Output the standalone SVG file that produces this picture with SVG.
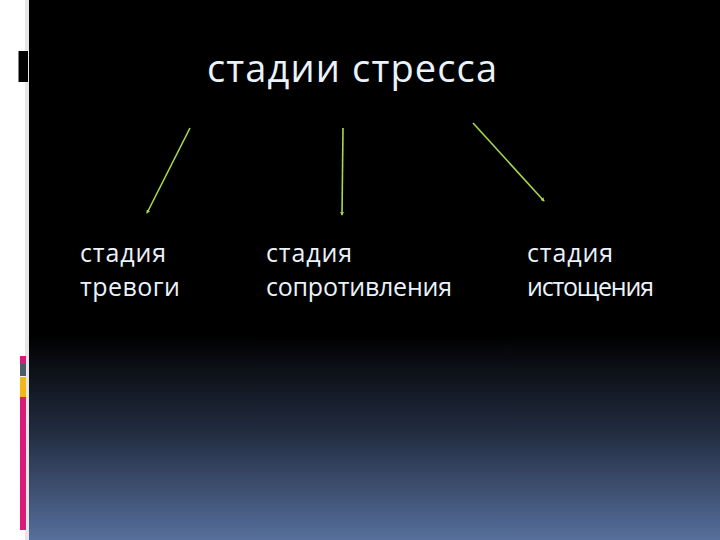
<svg xmlns="http://www.w3.org/2000/svg" width="720" height="540" viewBox="0 0 720 540">
<defs>
<linearGradient id="bg" x1="0" y1="0" x2="0" y2="1">
<stop offset="0" stop-color="#000000"/>
<stop offset="0.62" stop-color="#000000"/>
<stop offset="0.8" stop-color="#222c40"/>
<stop offset="1" stop-color="#566f9c"/>
</linearGradient>
<marker id="ah" viewBox="0 0 10 10" refX="8" refY="5" markerWidth="4" markerHeight="4" orient="auto" markerUnits="userSpaceOnUse">
<path d="M0,0 L10,5 L0,10 z" fill="#a6d84a"/>
</marker>
<style>
.t{font-family:"Open Sans","DejaVu Sans",sans-serif;fill:#eaf3fb}
.lbl{font-size:25px}
.ttl{font-size:38px}
.c{stroke:#a6d84a;stroke-width:1.6;fill:none;marker-end:url(#ah)}
</style>
</defs>
<rect width="720" height="540" fill="#ffffff"/>
<rect x="25" y="0" width="4" height="540" fill="#e6e6e6"/>
<rect x="29" y="0" width="691" height="540" fill="url(#bg)"/>
<g id="deco">
<rect x="17" y="51" width="11" height="31" fill="#000000"/>
<rect x="17" y="51" width="1.5" height="31" fill="#ffffff"/>
<rect x="20" y="356" width="6" height="8" fill="#d81b78"/>
<rect x="20" y="364" width="6" height="12" fill="#4d5a6a"/>
<rect x="20" y="377" width="6" height="20" fill="#f0b818"/>
<rect x="20" y="397" width="6" height="133" fill="#d81b78"/>
</g>
<g id="title"><text class="t ttl" x="207" y="82" textLength="290" lengthAdjust="spacing">стадии стресса</text></g>
<g id="connectors">
<line class="c" x1="190" y1="128" x2="147" y2="213"/>
<line class="c" x1="343" y1="128" x2="342" y2="215"/>
<line class="c" x1="473" y1="123" x2="544" y2="201"/>
</g>
<g id="n1"><text class="t lbl" x="80" y="262" textLength="86" lengthAdjust="spacing">стадия</text><text class="t lbl" x="80" y="296" textLength="100" lengthAdjust="spacing">тревоги</text></g>
<g id="n2"><text class="t lbl" x="266" y="262" textLength="86" lengthAdjust="spacing">стадия</text><text class="t lbl" x="266" y="296" textLength="186" lengthAdjust="spacing">сопротивления</text></g>
<g id="n3"><text class="t lbl" x="527" y="262" textLength="86" lengthAdjust="spacing">стадия</text><text class="t lbl" x="527" y="296" textLength="127" lengthAdjust="spacing">истощения</text></g>
</svg>
